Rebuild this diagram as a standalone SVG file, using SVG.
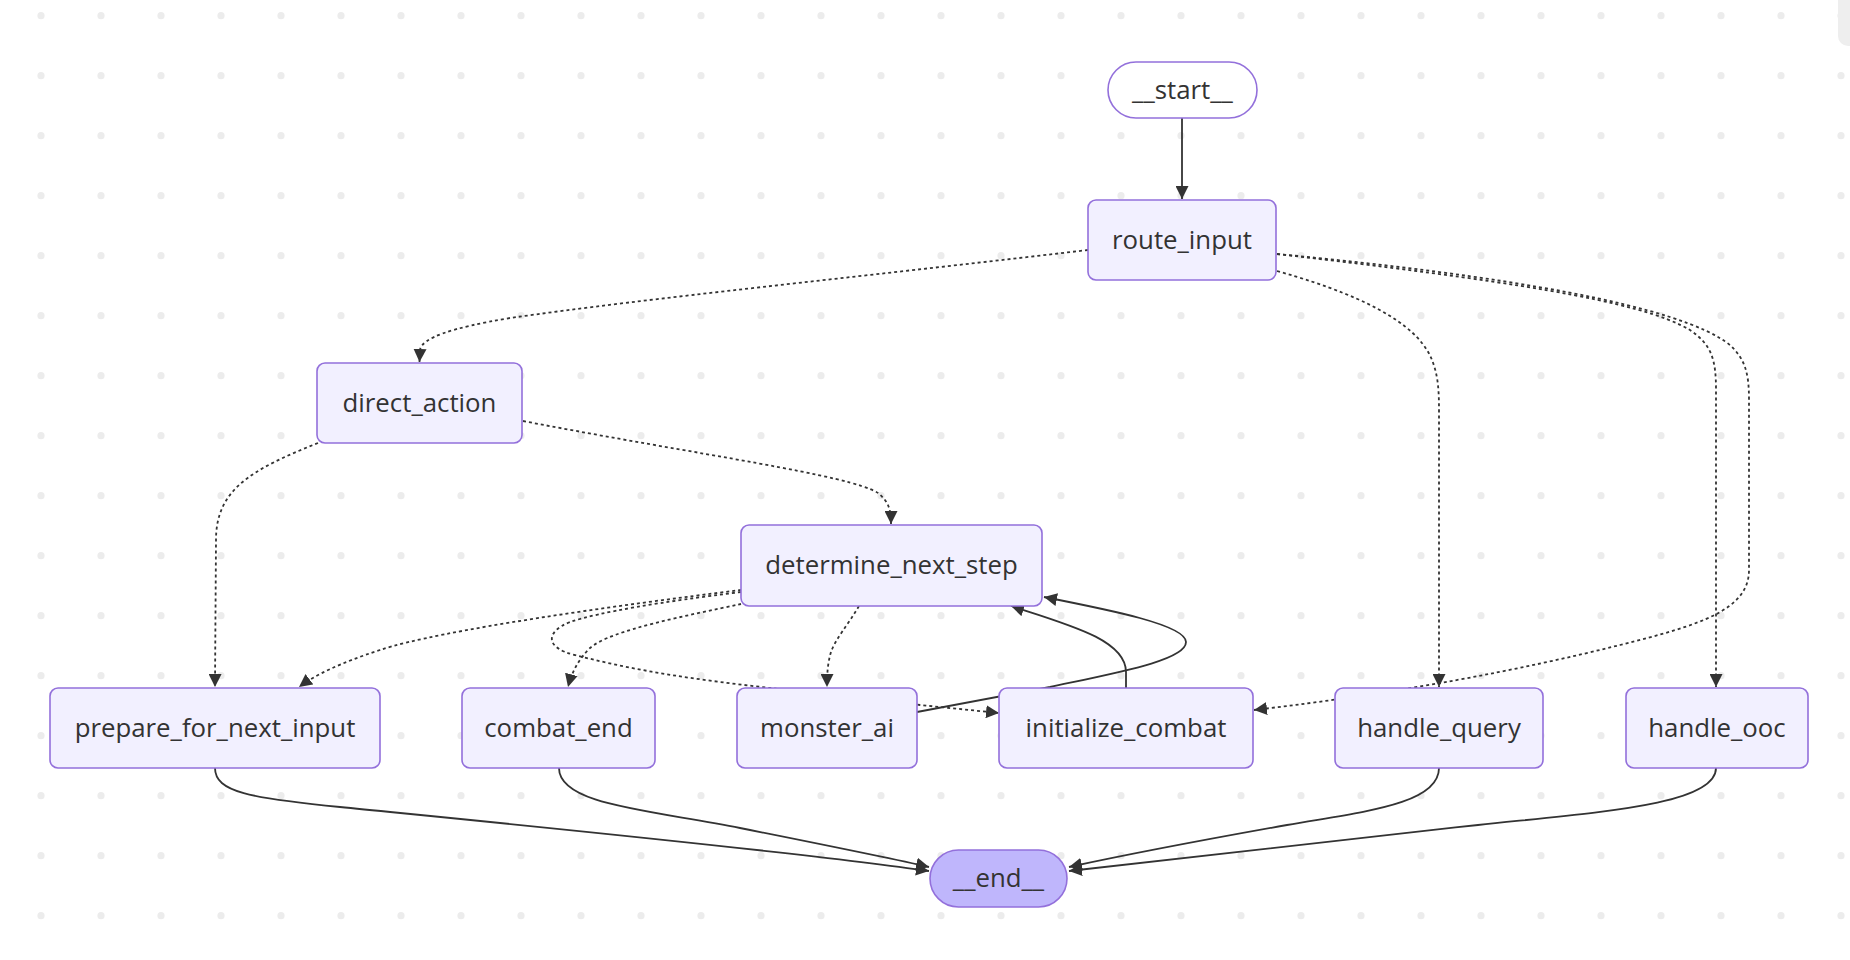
<svg xmlns="http://www.w3.org/2000/svg" width="1850" height="960" viewBox="0 0 1850 960">
<style>
.node rect{fill:#f2f0ff;stroke:#9370db;stroke-width:1.6}
.node text{font-family:"Open Sans","Noto Sans","Liberation Sans",sans-serif;font-size:25.8px;fill:#333;text-anchor:middle}
.e{fill:none;stroke:#333;stroke-width:1.8;marker-end:url(#arr)}
.d{stroke-dasharray:3 3;stroke-width:1.8}
</style>
<defs>
<pattern id="dots" patternUnits="userSpaceOnUse" width="60" height="60">
<circle cx="41" cy="15.7" r="3.6" fill="#ececec"/>
</pattern>
<marker id="arr" viewBox="0 0 10 10" refX="10" refY="5" markerUnits="userSpaceOnUse" markerWidth="13" markerHeight="13" orient="auto">
<path d="M0,0 L10,5 L0,10 z" fill="#333"/>
</marker>
</defs>
<rect width="1850" height="960" fill="#fff"/>
<rect width="1850" height="960" fill="url(#dots)"/>
<rect x="1838" y="-12" width="30" height="58" rx="10" fill="#eeeeee"/>
<g id="connectors">
<path class="e" d="M1182,118 L1182,199"/>
<path class="e d" d="M1088,250 C850,278 650,298 510,318 C450,328 422,338 420,350 L419.5,362"/>
<path class="e d" d="M1277,254 C1500,280 1640,300 1690,330 C1712,345 1716,360 1716,390 L1716,687"/>
<path class="e d" d="M1277,254 C1500,275 1680,305 1730,345 C1746,360 1749,375 1749,400 L1749,570 C1749,610 1700,625 1620,645 C1520,670 1400,693 1254,710"/>
<path class="e d" d="M1277,271 C1380,300 1420,330 1432,360 C1438,375 1439,390 1439,410 L1439,687"/>
<path class="e d" d="M523,421 C700,455 850,475 878,493 C889,502 891,510 891,524"/>
<path class="e d" d="M318,443 C250,470 216,490 216,540 L215,687"/>
<path class="e d" d="M741,590 C620,605 440,630 380,650 C340,663 315,675 299,687"/>
<path class="e d" d="M741,604 C690,615 610,630 590,648 C578,660 572,672 568,687"/>
<path class="e d" d="M741,592 C660,602 600,612 570,622 C545,632 545,648 575,655 C640,672 700,680 770,688 L920,705 L999,713"/>
<path class="e d" d="M859,606 C848,625 836,638 831,652 C828,662 827,672 827,687"/>
<path class="e" d="M917,712 L1050,687 C1120,672 1186,660 1186,642 C1186,625 1110,610 1044,597"/>
<path class="e" d="M1126,688 L1126,672 C1126,640 1070,625 1011,606"/>
<path class="e" d="M215,768 C215,792 250,798 340,807 C500,823 800,852 929,871"/>
<path class="e" d="M559,768 C559,805 650,810 740,828 C820,844 890,858 929,867"/>
<path class="e" d="M1439,768 C1439,805 1360,812 1287,825 C1200,840.5 1120,856 1069,867"/>
<path class="e" d="M1716,768 C1716,805 1600,812 1478,825 C1330,841 1180,858 1069,871"/>
</g>
<g id="start" class="node"><rect x="1108" y="62" width="149" height="56" rx="28" style="fill:#fff"/><text x="1182.5" y="99">__start__</text></g>
<g id="route_input" class="node"><rect x="1088" y="200" width="188" height="80" rx="8"/><text x="1182" y="249">route_input</text></g>
<g id="direct_action" class="node"><rect x="317" y="363" width="205" height="80" rx="8"/><text x="419.5" y="412">direct_action</text></g>
<g id="determine_next_step" class="node"><rect x="741" y="525" width="301" height="81" rx="8"/><text x="891.5" y="574">determine_next_step</text></g>
<g id="prepare_for_next_input" class="node"><rect x="50" y="688" width="330" height="80" rx="8"/><text x="215" y="737">prepare_for_next_input</text></g>
<g id="combat_end" class="node"><rect x="462" y="688" width="193" height="80" rx="8"/><text x="558.5" y="737">combat_end</text></g>
<g id="monster_ai" class="node"><rect x="737" y="688" width="180" height="80" rx="8"/><text x="827" y="737">monster_ai</text></g>
<g id="initialize_combat" class="node"><rect x="999" y="688" width="254" height="80" rx="8"/><text x="1126" y="737">initialize_combat</text></g>
<g id="handle_query" class="node"><rect x="1335" y="688" width="208" height="80" rx="8"/><text x="1439" y="737">handle_query</text></g>
<g id="handle_ooc" class="node"><rect x="1626" y="688" width="182" height="80" rx="8"/><text x="1717" y="737">handle_ooc</text></g>
<g id="end" class="node"><rect x="930" y="850" width="137" height="57" rx="28.5" style="fill:#bfb6fc"/><text x="998.5" y="887">__end__</text></g>
</svg>
